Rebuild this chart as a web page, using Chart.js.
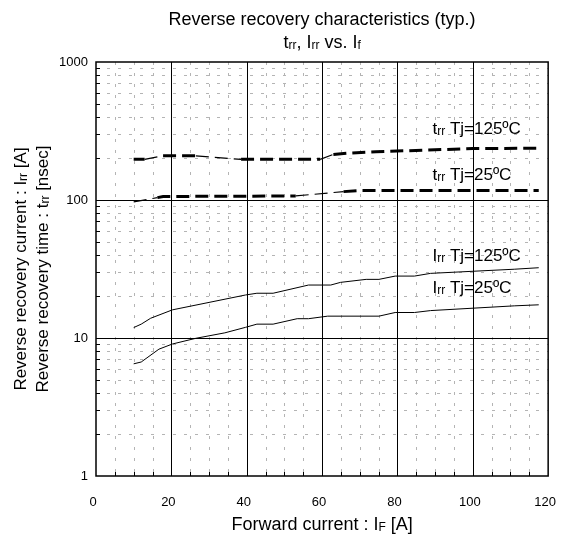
<!DOCTYPE html>
<html>
<head>
<meta charset="utf-8">
<script src="https://cdn.jsdelivr.net/npm/chart.js@4/dist/chart.umd.min.js"></script>
<style>
  html, body { margin: 0; padding: 0; background: #fff; }
  #wrap { width: 578px; height: 537px; position: relative; }
</style>
</head>
<body>
<div id="wrap"><canvas id="rrChart"></canvas></div>
<script>
// values
const xTicks = [0, 20, 40, 60, 80, 100, 120];
const yTicks = [1, 10, 100, 1000];

const trr125X = [10, 12.9, 17.8, 26.5, 38.5, 59.5, 63, 66.6, 74.3, 88, 100, 117.5];
const trr125Y = [197, 197, 209, 209, 197, 197, 214, 218, 224, 230, 236, 237];

const trr25X = [10, 16.3, 17.8, 53, 65.7, 69.6, 117.5];
const trr25Y = [97, 104, 106, 107, 115, 117, 117];

const irr125X = [10, 12, 14.5, 20.3, 39.7, 42.7, 47, 56.4, 62.3, 64.9, 71.7, 75.1, 79.4, 84.5, 88.8, 111, 117.5];
const irr125Y = [11.9, 12.6, 13.9, 16.0, 20.5, 21.1, 21.1, 24.2, 24.2, 25.3, 26.6, 26.6, 28.1, 28.1, 29.4, 31.5, 32.3];

const irr25X = [10, 12, 16.7, 20.3, 26.5, 34.2, 39.7, 42.7, 47, 53.4, 56.4, 61.5, 75.1, 79.4, 84.5, 88.8, 111, 117.5];
const irr25Y = [6.5, 6.7, 8.3, 9.05, 9.95, 10.9, 11.95, 12.6, 12.6, 13.8, 13.8, 14.4, 14.4, 15.3, 15.3, 15.8, 17.1, 17.4];

const FONT = '"Liberation Sans", Arial, Helvetica, sans-serif';

const toPoints = (xs, ys) => xs.map((x, i) => ({ x, y: ys[i] }));

// thick dashes on the flat runs, thin where the curve climbs or drops
const flatWidth = (ctx) => {
  const a = ctx.p0.parsed.y, b = ctx.p1.parsed.y;
  return Math.abs(Math.log(b / a)) < 0.03 ? 3 : 1.2;
};

// draws text with "rr", "F", "f" style subscripts: parts = [[text, isSub], ...]
const drawRich = (ctx, parts, x, y, size, align) => {
  const subSize = Math.round(size * 0.68);
  let total = 0;
  parts.forEach(([t, sub]) => {
    ctx.font = `${sub ? subSize : size}px ${FONT}`;
    total += ctx.measureText(t).width;
  });
  let cx = align === "center" ? x - total / 2 : x;
  ctx.textAlign = "left";
  ctx.textBaseline = "alphabetic";
  parts.forEach(([t, sub]) => {
    ctx.font = `${sub ? subSize : size}px ${FONT}`;
    ctx.fillText(t, cx, sub ? y + 1 : y);
    cx += ctx.measureText(t).width;
  });
};

const gridPlugin = {
  id: "rrGrid",
  beforeDatasetsDraw(chart) {
    const { ctx, chartArea: a, scales: { x, y } } = chart;
    ctx.save();

    // minor grid
    ctx.strokeStyle = "#b4b4b4";
    ctx.lineWidth = 1;
    ctx.setLineDash([3, 8]);
    for (let v = 5; v < 120; v += 5) {
      if (v % 20 === 0) continue;
      const px = Math.round(x.getPixelForValue(v)) + 0.5;
      ctx.beginPath(); ctx.moveTo(px, a.top); ctx.lineTo(px, a.bottom); ctx.stroke();
    }
    for (let k = 1; k <= 100; k *= 10) {
      for (let d = 2; d <= 9; d++) {
        const py = Math.round(y.getPixelForValue(d * k)) + 0.5;
        ctx.beginPath(); ctx.moveTo(a.left, py); ctx.lineTo(a.right, py); ctx.stroke();
      }
    }
    ctx.setLineDash([]);

    // inward minor ticks
    ctx.strokeStyle = "#000";
    for (let v = 5; v < 120; v += 5) {
      if (v % 20 === 0) continue;
      const px = Math.round(x.getPixelForValue(v)) + 0.5;
      ctx.beginPath(); ctx.moveTo(px, a.bottom); ctx.lineTo(px, a.bottom - 4); ctx.stroke();
    }
    for (let k = 1; k <= 100; k *= 10) {
      for (let d = 2; d <= 9; d++) {
        const py = Math.round(y.getPixelForValue(d * k)) + 0.5;
        ctx.beginPath(); ctx.moveTo(a.left, py); ctx.lineTo(a.left + 4, py); ctx.stroke();
      }
    }

    // major grid
    ctx.lineWidth = 1;
    xTicks.slice(1, -1).forEach((v) => {
      const px = Math.round(x.getPixelForValue(v)) + 0.5;
      ctx.beginPath(); ctx.moveTo(px, a.top); ctx.lineTo(px, a.bottom); ctx.stroke();
    });
    yTicks.slice(1, -1).forEach((v) => {
      const py = Math.round(y.getPixelForValue(v)) + 0.5;
      ctx.beginPath(); ctx.moveTo(a.left, py); ctx.lineTo(a.right, py); ctx.stroke();
    });

    // frame
    ctx.lineWidth = 1.5;
    ctx.strokeRect(a.left, a.top, a.right - a.left, a.bottom - a.top);
    ctx.restore();
  }
};

const textPlugin = {
  id: "rrText",
  afterDraw(chart) {
    const { ctx, chartArea: a, scales: { x, y } } = chart;
    const midX = (a.left + a.right) / 2;
    const midY = (a.top + a.bottom) / 2;
    ctx.save();
    ctx.fillStyle = "#000";

    drawRich(ctx, [["Reverse recovery characteristics (typ.)", false]], midX, 25, 18, "center");
    drawRich(ctx, [["t", false], ["rr", true], [", I", false], ["rr", true], [" vs. I", false], ["f", true]], midX, 48, 18, "center");
    drawRich(ctx, [["Forward current : I", false], ["F", true], [" [A]", false]], midX, 530, 18, "center");

    ctx.save();
    ctx.translate(26, midY);
    ctx.rotate(-Math.PI / 2);
    drawRich(ctx, [["Reverse recovery current : I", false], ["rr", true], [" [A]", false]], 0, 0, 17, "center");
    ctx.restore();
    ctx.save();
    ctx.translate(48, midY);
    ctx.rotate(-Math.PI / 2);
    drawRich(ctx, [["Reverse recovery time : t", false], ["rr", true], [" [nsec]", false]], 0, 0, 17, "center");
    ctx.restore();

    const lx = x.getPixelForValue(89.3);
    drawRich(ctx, [["t", false], ["rr", true], [" Tj=125ºC", false]], lx, y.getPixelForValue(301), 17, "left");
    drawRich(ctx, [["t", false], ["rr", true], [" Tj=25ºC", false]], lx, y.getPixelForValue(140), 17, "left");
    drawRich(ctx, [["I", false], ["rr", true], [" Tj=125ºC", false]], lx, y.getPixelForValue(36.4), 17, "left");
    drawRich(ctx, [["I", false], ["rr", true], [" Tj=25ºC", false]], lx, y.getPixelForValue(21.2), 17, "left");
    ctx.restore();
  }
};

const dashed = (data) => ({
  data,
  borderColor: "#000",
  borderDash: [13, 6],
  borderCapStyle: "butt",
  segment: { borderWidth: flatWidth },
  borderWidth: 3,
  pointRadius: 0,
  tension: 0
});

const solid = (data) => ({
  data,
  borderColor: "#000",
  borderWidth: 1,
  pointRadius: 0,
  tension: 0
});

new Chart(document.getElementById("rrChart"), {
  type: "line",
  data: {
    datasets: [
      dashed(toPoints(trr125X, trr125Y)),
      dashed(toPoints(trr25X, trr25Y)),
      solid(toPoints(irr125X, irr125Y)),
      solid(toPoints(irr25X, irr25Y))
    ]
  },
  options: {
    responsive: true,
    maintainAspectRatio: false,
    animation: false,
    layout: { padding: { top: 62, right: 13, left: 0, bottom: 0 } },
    plugins: { legend: { display: false }, tooltip: { enabled: false }, title: { display: false } },
    scales: {
      x: {
        type: "linear",
        min: 0,
        max: 120,
        grid: { display: false, drawTicks: false },
        border: { display: false },
        afterBuildTicks: (s) => { s.ticks = xTicks.map((value) => ({ value })); },
        afterFit: (s) => { s.height = 61; },
        ticks: {
          color: "#000",
          font: { family: FONT, size: 13 },
          padding: 19,
          labelOffset: -3,
          maxRotation: 0,
          autoSkip: false
        }
      },
      y: {
        type: "logarithmic",
        min: 1,
        max: 1000,
        grid: { display: false, drawTicks: false },
        border: { display: false },
        afterBuildTicks: (s) => { s.ticks = yTicks.map((value) => ({ value })); },
        afterFit: (s) => { s.width = 96; },
        ticks: {
          color: "#000",
          font: { family: FONT, size: 13 },
          padding: 8,
          autoSkip: false,
          callback: (v) => String(v)
        }
      }
    }
  },
  plugins: [gridPlugin, textPlugin]
});
</script>
</body>
</html>
